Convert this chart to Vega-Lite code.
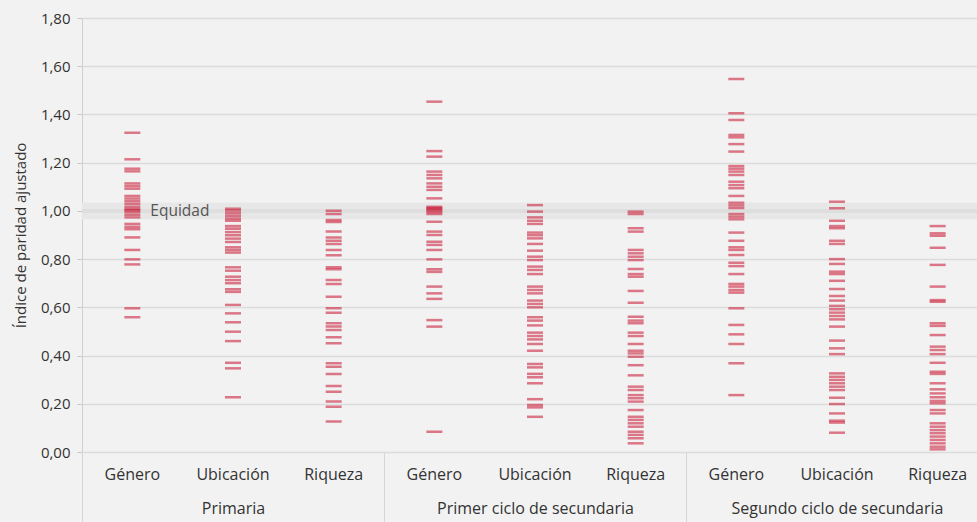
{
 "$schema": "https://vega.github.io/schema/vega-lite/v6.json",
 "width": 906,
 "height": 434,
 "autosize": "none",
 "padding": {"left": 82, "top": 18, "right": 0, "bottom": 70},
 "background": "#f2f2f2",
 "config": {"view": {"stroke": null}, "font": "Open Sans"},
 "datasets": {
  "grupos": [
   {"g": "Primaria"},
   {"g": "Primer ciclo de secundaria"},
   {"g": "Segundo ciclo de secundaria"}
  ],
  "valores": [
   {"k":"A|Género","v":1.324},{"k":"A|Género","v":1.214},{"k":"A|Género","v":1.175},{"k":"A|Género","v":1.164},{"k":"A|Género","v":1.114},{"k":"A|Género","v":1.103},{"k":"A|Género","v":1.092},{"k":"A|Género","v":1.062},{"k":"A|Género","v":1.051},{"k":"A|Género","v":1.040},{"k":"A|Género","v":1.029},{"k":"A|Género","v":1.017},{"k":"A|Género","v":1.007},{"k":"A|Género","v":1.003},{"k":"A|Género","v":0.995},{"k":"A|Género","v":0.984},{"k":"A|Género","v":0.973},{"k":"A|Género","v":0.946},{"k":"A|Género","v":0.934},{"k":"A|Género","v":0.924},{"k":"A|Género","v":0.890},{"k":"A|Género","v":0.838},{"k":"A|Género","v":0.799},{"k":"A|Género","v":0.778},{"k":"A|Género","v":0.596},{"k":"A|Género","v":0.559},
   {"k":"A|Ubicación","v":1.009},{"k":"A|Ubicación","v":1.001},{"k":"A|Ubicación","v":0.990},{"k":"A|Ubicación","v":0.979},{"k":"A|Ubicación","v":0.968},{"k":"A|Ubicación","v":0.959},{"k":"A|Ubicación","v":0.937},{"k":"A|Ubicación","v":0.926},{"k":"A|Ubicación","v":0.912},{"k":"A|Ubicación","v":0.899},{"k":"A|Ubicación","v":0.885},{"k":"A|Ubicación","v":0.871},{"k":"A|Ubicación","v":0.849},{"k":"A|Ubicación","v":0.838},{"k":"A|Ubicación","v":0.827},{"k":"A|Ubicación","v":0.766},{"k":"A|Ubicación","v":0.752},{"k":"A|Ubicación","v":0.727},{"k":"A|Ubicación","v":0.713},{"k":"A|Ubicación","v":0.700},{"k":"A|Ubicación","v":0.675},{"k":"A|Ubicación","v":0.664},{"k":"A|Ubicación","v":0.610},{"k":"A|Ubicación","v":0.575},{"k":"A|Ubicación","v":0.538},{"k":"A|Ubicación","v":0.499},{"k":"A|Ubicación","v":0.460},{"k":"A|Ubicación","v":0.370},{"k":"A|Ubicación","v":0.347},{"k":"A|Ubicación","v":0.227},
   {"k":"A|Riqueza","v":1.001},{"k":"A|Riqueza","v":0.987},{"k":"A|Riqueza","v":0.962},{"k":"A|Riqueza","v":0.954},{"k":"A|Riqueza","v":0.915},{"k":"A|Riqueza","v":0.890},{"k":"A|Riqueza","v":0.876},{"k":"A|Riqueza","v":0.863},{"k":"A|Riqueza","v":0.838},{"k":"A|Riqueza","v":0.816},{"k":"A|Riqueza","v":0.766},{"k":"A|Riqueza","v":0.758},{"k":"A|Riqueza","v":0.713},{"k":"A|Riqueza","v":0.697},{"k":"A|Riqueza","v":0.644},{"k":"A|Riqueza","v":0.596},{"k":"A|Riqueza","v":0.578},{"k":"A|Riqueza","v":0.534},{"k":"A|Riqueza","v":0.520},{"k":"A|Riqueza","v":0.506},{"k":"A|Riqueza","v":0.476},{"k":"A|Riqueza","v":0.451},{"k":"A|Riqueza","v":0.368},{"k":"A|Riqueza","v":0.354},{"k":"A|Riqueza","v":0.324},{"k":"A|Riqueza","v":0.274},{"k":"A|Riqueza","v":0.250},{"k":"A|Riqueza","v":0.209},{"k":"A|Riqueza","v":0.188},{"k":"A|Riqueza","v":0.126},
   {"k":"B|Género","v":1.453},{"k":"B|Género","v":1.248},{"k":"B|Género","v":1.225},{"k":"B|Género","v":1.163},{"k":"B|Género","v":1.149},{"k":"B|Género","v":1.135},{"k":"B|Género","v":1.114},{"k":"B|Género","v":1.100},{"k":"B|Género","v":1.087},{"k":"B|Género","v":1.052},{"k":"B|Género","v":1.017},{"k":"B|Género","v":1.012},{"k":"B|Género","v":1.007},{"k":"B|Género","v":1.002},{"k":"B|Género","v":0.995},{"k":"B|Género","v":0.987},{"k":"B|Género","v":0.955},{"k":"B|Género","v":0.914},{"k":"B|Género","v":0.900},{"k":"B|Género","v":0.872},{"k":"B|Género","v":0.859},{"k":"B|Género","v":0.838},{"k":"B|Género","v":0.799},{"k":"B|Género","v":0.758},{"k":"B|Género","v":0.747},{"k":"B|Género","v":0.686},{"k":"B|Género","v":0.658},{"k":"B|Género","v":0.635},{"k":"B|Género","v":0.547},{"k":"B|Género","v":0.520},{"k":"B|Género","v":0.084},
   {"k":"B|Ubicación","v":1.024},{"k":"B|Ubicación","v":0.997},{"k":"B|Ubicación","v":0.973},{"k":"B|Ubicación","v":0.959},{"k":"B|Ubicación","v":0.946},{"k":"B|Ubicación","v":0.910},{"k":"B|Ubicación","v":0.899},{"k":"B|Ubicación","v":0.886},{"k":"B|Ubicación","v":0.863},{"k":"B|Ubicación","v":0.835},{"k":"B|Ubicación","v":0.810},{"k":"B|Ubicación","v":0.796},{"k":"B|Ubicación","v":0.769},{"k":"B|Ubicación","v":0.755},{"k":"B|Ubicación","v":0.738},{"k":"B|Ubicación","v":0.686},{"k":"B|Ubicación","v":0.672},{"k":"B|Ubicación","v":0.658},{"k":"B|Ubicación","v":0.628},{"k":"B|Ubicación","v":0.614},{"k":"B|Ubicación","v":0.600},{"k":"B|Ubicación","v":0.559},{"k":"B|Ubicación","v":0.545},{"k":"B|Ubicación","v":0.525},{"k":"B|Ubicación","v":0.495},{"k":"B|Ubicación","v":0.481},{"k":"B|Ubicación","v":0.467},{"k":"B|Ubicación","v":0.448},{"k":"B|Ubicación","v":0.420},{"k":"B|Ubicación","v":0.365},{"k":"B|Ubicación","v":0.351},{"k":"B|Ubicación","v":0.324},{"k":"B|Ubicación","v":0.310},{"k":"B|Ubicación","v":0.285},{"k":"B|Ubicación","v":0.219},{"k":"B|Ubicación","v":0.195},{"k":"B|Ubicación","v":0.185},{"k":"B|Ubicación","v":0.146},
   {"k":"B|Riqueza","v":0.997},{"k":"B|Riqueza","v":0.987},{"k":"B|Riqueza","v":0.928},{"k":"B|Riqueza","v":0.914},{"k":"B|Riqueza","v":0.838},{"k":"B|Riqueza","v":0.824},{"k":"B|Riqueza","v":0.810},{"k":"B|Riqueza","v":0.796},{"k":"B|Riqueza","v":0.759},{"k":"B|Riqueza","v":0.738},{"k":"B|Riqueza","v":0.727},{"k":"B|Riqueza","v":0.668},{"k":"B|Riqueza","v":0.619},{"k":"B|Riqueza","v":0.561},{"k":"B|Riqueza","v":0.545},{"k":"B|Riqueza","v":0.534},{"k":"B|Riqueza","v":0.495},{"k":"B|Riqueza","v":0.481},{"k":"B|Riqueza","v":0.448},{"k":"B|Riqueza","v":0.420},{"k":"B|Riqueza","v":0.409},{"k":"B|Riqueza","v":0.395},{"k":"B|Riqueza","v":0.360},{"k":"B|Riqueza","v":0.318},{"k":"B|Riqueza","v":0.271},{"k":"B|Riqueza","v":0.257},{"k":"B|Riqueza","v":0.236},{"k":"B|Riqueza","v":0.223},{"k":"B|Riqueza","v":0.209},{"k":"B|Riqueza","v":0.174},{"k":"B|Riqueza","v":0.146},{"k":"B|Riqueza","v":0.133},{"k":"B|Riqueza","v":0.119},{"k":"B|Riqueza","v":0.105},{"k":"B|Riqueza","v":0.084},{"k":"B|Riqueza","v":0.071},{"k":"B|Riqueza","v":0.057},{"k":"B|Riqueza","v":0.036},
   {"k":"C|Género","v":1.547},{"k":"C|Género","v":1.405},{"k":"C|Género","v":1.377},{"k":"C|Género","v":1.315},{"k":"C|Género","v":1.305},{"k":"C|Género","v":1.277},{"k":"C|Género","v":1.246},{"k":"C|Género","v":1.186},{"k":"C|Género","v":1.175},{"k":"C|Género","v":1.163},{"k":"C|Género","v":1.149},{"k":"C|Género","v":1.121},{"k":"C|Género","v":1.107},{"k":"C|Género","v":1.094},{"k":"C|Género","v":1.062},{"k":"C|Género","v":1.034},{"k":"C|Género","v":1.023},{"k":"C|Género","v":1.012},{"k":"C|Género","v":0.987},{"k":"C|Género","v":0.976},{"k":"C|Género","v":0.965},{"k":"C|Género","v":0.910},{"k":"C|Género","v":0.876},{"k":"C|Género","v":0.849},{"k":"C|Género","v":0.838},{"k":"C|Género","v":0.817},{"k":"C|Género","v":0.785},{"k":"C|Género","v":0.771},{"k":"C|Género","v":0.738},{"k":"C|Género","v":0.697},{"k":"C|Género","v":0.686},{"k":"C|Género","v":0.672},{"k":"C|Género","v":0.661},{"k":"C|Género","v":0.596},{"k":"C|Género","v":0.527},{"k":"C|Género","v":0.488},{"k":"C|Género","v":0.448},{"k":"C|Género","v":0.368},{"k":"C|Género","v":0.236},
   {"k":"C|Ubicación","v":1.038},{"k":"C|Ubicación","v":1.011},{"k":"C|Ubicación","v":0.959},{"k":"C|Ubicación","v":0.937},{"k":"C|Ubicación","v":0.928},{"k":"C|Ubicación","v":0.876},{"k":"C|Ubicación","v":0.863},{"k":"C|Ubicación","v":0.800},{"k":"C|Ubicación","v":0.780},{"k":"C|Ubicación","v":0.748},{"k":"C|Ubicación","v":0.738},{"k":"C|Ubicación","v":0.710},{"k":"C|Ubicación","v":0.676},{"k":"C|Ubicación","v":0.647},{"k":"C|Ubicación","v":0.628},{"k":"C|Ubicación","v":0.606},{"k":"C|Ubicación","v":0.592},{"k":"C|Ubicación","v":0.578},{"k":"C|Ubicación","v":0.564},{"k":"C|Ubicación","v":0.550},{"k":"C|Ubicación","v":0.520},{"k":"C|Ubicación","v":0.462},{"k":"C|Ubicación","v":0.430},{"k":"C|Ubicación","v":0.406},{"k":"C|Ubicación","v":0.326},{"k":"C|Ubicación","v":0.312},{"k":"C|Ubicación","v":0.299},{"k":"C|Ubicación","v":0.285},{"k":"C|Ubicación","v":0.271},{"k":"C|Ubicación","v":0.257},{"k":"C|Ubicación","v":0.225},{"k":"C|Ubicación","v":0.199},{"k":"C|Ubicación","v":0.160},{"k":"C|Ubicación","v":0.130},{"k":"C|Ubicación","v":0.122},{"k":"C|Ubicación","v":0.080},
   {"k":"C|Riqueza","v":0.937},{"k":"C|Riqueza","v":0.907},{"k":"C|Riqueza","v":0.897},{"k":"C|Riqueza","v":0.847},{"k":"C|Riqueza","v":0.776},{"k":"C|Riqueza","v":0.686},{"k":"C|Riqueza","v":0.630},{"k":"C|Riqueza","v":0.623},{"k":"C|Riqueza","v":0.534},{"k":"C|Riqueza","v":0.523},{"k":"C|Riqueza","v":0.485},{"k":"C|Riqueza","v":0.437},{"k":"C|Riqueza","v":0.423},{"k":"C|Riqueza","v":0.406},{"k":"C|Riqueza","v":0.370},{"k":"C|Riqueza","v":0.333},{"k":"C|Riqueza","v":0.324},{"k":"C|Riqueza","v":0.285},{"k":"C|Riqueza","v":0.260},{"k":"C|Riqueza","v":0.243},{"k":"C|Riqueza","v":0.227},{"k":"C|Riqueza","v":0.212},{"k":"C|Riqueza","v":0.202},{"k":"C|Riqueza","v":0.174},{"k":"C|Riqueza","v":0.160},{"k":"C|Riqueza","v":0.119},{"k":"C|Riqueza","v":0.105},{"k":"C|Riqueza","v":0.091},{"k":"C|Riqueza","v":0.078},{"k":"C|Riqueza","v":0.064},{"k":"C|Riqueza","v":0.050},{"k":"C|Riqueza","v":0.036},{"k":"C|Riqueza","v":0.022},{"k":"C|Riqueza","v":0.011}
  ]
 },
 "layer": [
  {
   "data": {"name": "grupos"},
   "mark": {"type": "rect", "color": "#e7e7e7"},
   "encoding": {
    "x": {"field": "g", "type": "nominal", "sort": null,
     "scale": {"paddingInner": 0, "paddingOuter": 0},
     "axis": {"orient": "bottom", "title": null, "domain": false, "grid": false, "tickBand": "extent", "tickSize": 70, "tickColor": "#d6d6d6", "tickWidth": 1, "labelPadding": -22, "labelLimit": 500, "labelFontSize": 16, "labelColor": "#333333", "labelAngle": 0}},
    "y": {"datum": 0.965, "type": "quantitative", "scale": {"domain": [0, 1.8], "nice": false},
     "axis": {"title": "Índice de paridad ajustado", "values": [0, 0.2, 0.4, 0.6, 0.8, 1, 1.2, 1.4, 1.6, 1.8], "labelExpr": "replace(format(datum.value, '.2f'), '.', ',')", "grid": true, "gridColor": "#dcdcdc", "gridWidth": 1.5, "domain": true, "domainColor": "#d0d0d0", "tickSize": 5, "tickColor": "#c8c8c8", "labelPadding": 7, "labelFontSize": 15, "labelColor": "#333333", "titleFontSize": 15, "titleFontWeight": "normal", "titleColor": "#333333", "titlePadding": 12}},
    "y2": {"datum": 1.035}
   }
  },
  {
   "data": {"name": "valores"},
   "mark": {"type": "rule", "color": "#dedede", "strokeWidth": 4},
   "encoding": {"y": {"datum": 1, "type": "quantitative"}}
  },
  {
   "data": {"name": "valores"},
   "mark": {"type": "tick", "color": "#c8102e", "opacity": 0.55, "size": 16, "thickness": 2.5},
   "encoding": {
    "x": {"field": "k", "type": "nominal",
     "scale": {"domain": ["A|Género", "A|Ubicación", "A|Riqueza", "B|Género", "B|Ubicación", "B|Riqueza", "C|Género", "C|Ubicación", "C|Riqueza"], "paddingInner": 0, "paddingOuter": 0},
     "axis": {"orient": "bottom", "title": null, "domain": false, "ticks": false, "grid": false, "labelPadding": 14, "labelFontSize": 16, "labelColor": "#333333", "labelAngle": 0, "labelExpr": "split(datum.value, '|')[1]"}},
    "y": {"field": "v", "type": "quantitative", "title": "Índice de paridad ajustado"}
   }
  },
  {
   "data": {"values": [{"k": "A|Género", "t": "Equidad"}]},
   "mark": {"type": "text", "align": "left", "baseline": "middle", "dx": 18, "fontSize": 15.5, "color": "#555555"},
   "encoding": {
    "x": {"field": "k", "type": "nominal", "axis": null,
     "scale": {"domain": ["A|Género", "A|Ubicación", "A|Riqueza", "B|Género", "B|Ubicación", "B|Riqueza", "C|Género", "C|Ubicación", "C|Riqueza"], "paddingInner": 0, "paddingOuter": 0}},
    "y": {"datum": 1, "type": "quantitative"},
    "text": {"field": "t"}
   }
  }
 ],
 "resolve": {"scale": {"x": "independent"}, "axis": {"x": "independent"}}
}
